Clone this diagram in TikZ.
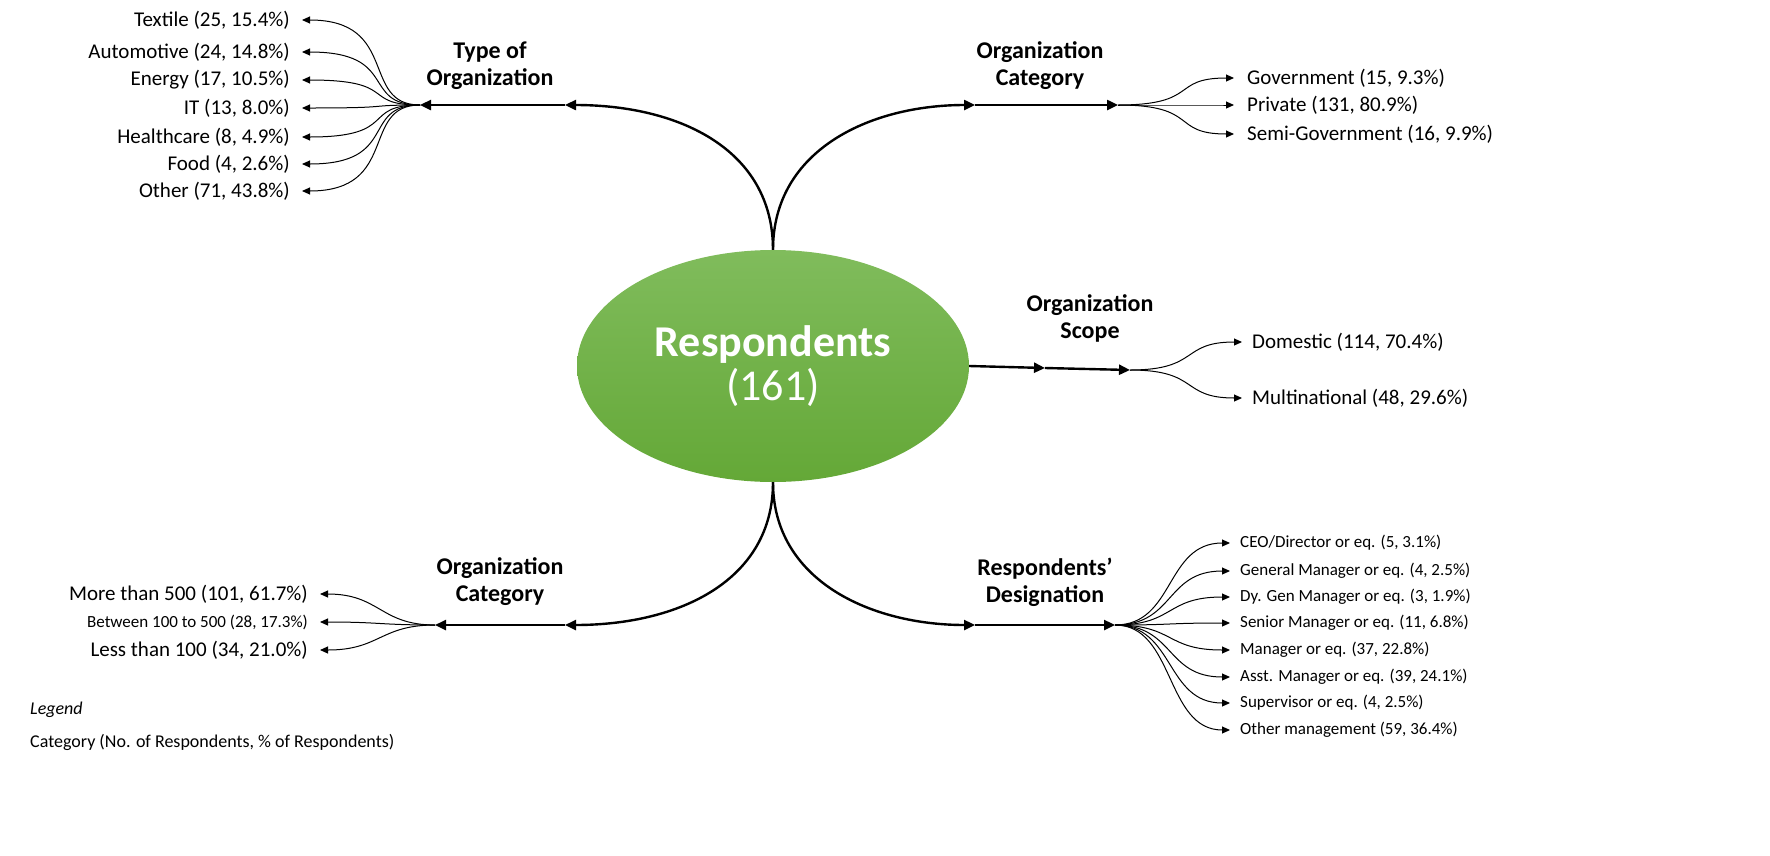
\documentclass[tikz,border=0pt]{standalone}
\usepackage{fontspec}
\setmainfont{Carlito}
\usetikzlibrary{arrows.meta,shapes.geometric}
\definecolor{gtop}{RGB}{128,188,92}
\definecolor{gbot}{RGB}{100,168,55}
\begin{document}
\begin{tikzpicture}[x=1pt,y=-1pt,
  main/.style={line width=2.4pt,-{Triangle[length=11pt,width=10pt]}},
  fan/.style={line width=1pt,-{Triangle[length=8pt,width=7pt]}},
  lbl/.style={font=\fontsize{24}{27}\selectfont\bfseries,align=center},
  leafL/.style={font=\fontsize{21}{24}\selectfont,anchor=east,inner sep=0pt},
  leafR/.style={font=\fontsize{21}{24}\selectfont,anchor=west,inner sep=0pt},
  leafS/.style={font=\fontsize{17}{20}\selectfont,anchor=west,inner sep=0pt}]
\useasboundingbox (0,0) rectangle (1770,855);
\node[ellipse,minimum width=392pt,minimum height=232pt,top color=gtop,bottom color=gbot,draw=none,align=center,text=white] (R) at (773,366)
 {{\fontsize{44}{50}\selectfont\bfseries Respondents}\\[4pt]{\fontsize{44}{50}\selectfont (161)}};
% top-left
\coordinate (tlm) at (565,105); \coordinate (tlh) at (420,105);
\draw[main] (R.north) .. controls (773,150) and (680,105) .. (tlm);
\draw[main] (tlm) -- (tlh);
\node[lbl] (tll) at (490,66) {Type of\\Organization};
\foreach \t/\y [count=\i] in {{Textile (25, 15.4\%)}/20,{Automotive (24, 14.8\%)}/52,{Energy (17, 10.5\%)}/80,{IT (13, 8.0\%)}/108,{Healthcare (8, 4.9\%)}/137,{Food (4, 2.6\%)}/164,{Other (71, 43.8\%)}/191}{
  \coordinate (tl\i) at (302,\y);
  \node[leafL] (tlt\i) at (290,\y) {\t};
  \draw[fan] (tlh) .. controls (360,105) and (400,\y) .. (tl\i);
}
% top-right
\coordinate (trm) at (975,105); \coordinate (trh) at (1118,105);
\draw[main] (R.north) .. controls (773,150) and (870,105) .. (trm);
\draw[main] (trm) -- (trh);
\node[lbl] (trl) at (1040,66) {Organization\\Category};
\foreach \t/\y [count=\i] in {{Government (15, 9.3\%)}/78,{Private (131, 80.9\%)}/105,{Semi-Government (16, 9.9\%)}/134}{
  \coordinate (tr\i) at (1234,\y);
  \node[leafR] (trt\i) at (1247,\y) {\t};
  \draw[fan] (trh) .. controls (1200,105) and (1170,\y) .. (tr\i);
}
% right
\coordinate (rm) at (1045,368); \coordinate (rh) at (1130,370);
\draw[main] (R.east) -- (rm);
\draw[main] (rm) -- (rh);
\node[lbl] (rl) at (1090,318) {Organization\\Scope};
\foreach \t/\y [count=\i] in {{Domestic (114, 70.4\%)}/342,{Multinational (48, 29.6\%)}/398}{
  \coordinate (r\i) at (1242,\y);
  \node[leafR] (rt\i) at (1252,\y) {\t};
  \draw[fan] (rh) .. controls (1200,370) and (1180,\y) .. (r\i);
}
% bottom-left
\coordinate (blm) at (565,625); \coordinate (blh) at (435,625);
\draw[main] (R.south) .. controls (773,580) and (680,625) .. (blm);
\draw[main] (blm) -- (blh);
\node[lbl] (bll) at (500,582) {Organization\\Category};
\coordinate (bl1) at (320,594); \coordinate (bl2) at (320,622); \coordinate (bl3) at (320,650);
\node[leafL] (blt1) at (308,594) {More than 500 (101, 61.7\%)};
\node[leafL,font=\fontsize{17}{20}\selectfont] (blt2) at (308,622) {Between 100 to 500 (28, 17.3\%)};
\node[leafL] (blt3) at (308,650) {Less than 100 (34, 21.0\%)};
\foreach \i/\y in {1/594,2/622,3/650}{
  \draw[fan] (blh) .. controls (380,625) and (380,\y) .. (bl\i);
}
% bottom-right
\coordinate (brm) at (975,625); \coordinate (brh) at (1115,625);
\draw[main] (R.south) .. controls (773,580) and (870,625) .. (brm);
\draw[main] (brm) -- (brh);
\node[lbl] (brl) at (1045,582) {Respondents’\\Designation};
\foreach \t/\y [count=\i] in {{CEO/Director or eq. (5, 3.1\%)}/543,{General Manager or eq. (4, 2.5\%)}/571,{Dy. Gen Manager or eq. (3, 1.9\%)}/597,{Senior Manager or eq. (11, 6.8\%)}/623,{Manager or eq. (37, 22.8\%)}/650,{Asst. Manager or eq. (39, 24.1\%)}/677,{Supervisor or eq. (4, 2.5\%)}/703,{Other management (59, 36.4\%)}/730}{
  \coordinate (br\i) at (1230,\y);
  \node[leafS] (brt\i) at (1240,\y) {\t};
  \draw[fan] (brh) .. controls (1175,625) and (1165,\y) .. (br\i);
}
% legend
\node[anchor=west,font=\fontsize{18}{20}\selectfont\itshape,inner sep=0pt] (lg1) at (30,710) {Legend};
\node[anchor=west,font=\fontsize{18}{20}\selectfont,inner sep=0pt] (lg2) at (30,742) {Category (No. of Respondents, \% of Respondents)};
\end{tikzpicture}
\end{document}
